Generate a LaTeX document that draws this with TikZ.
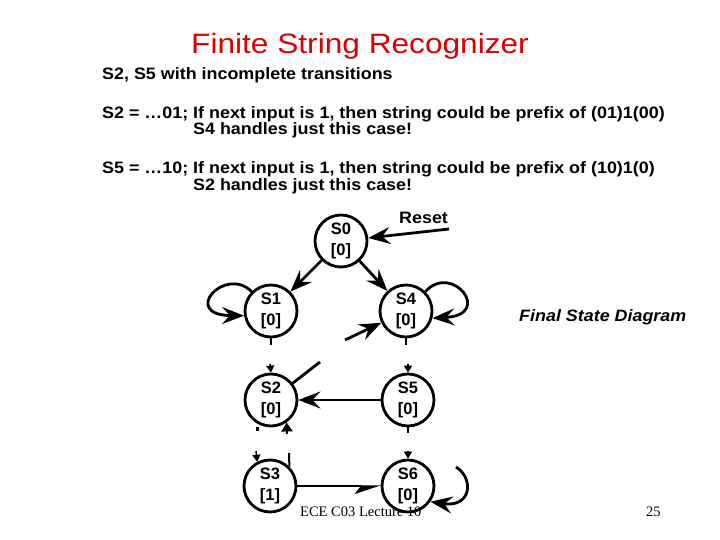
\documentclass[tikz,border=0pt]{standalone}
\usepackage{fontspec}
\setmainfont{Liberation Sans}
\newfontfamily\widesans[FakeStretch=1.085]{Liberation Sans}
\newfontfamily\titlesans[FakeStretch=1.13]{Liberation Sans}
\newfontfamily\nodesans{Liberation Sans}
\newfontfamily\footserif{Liberation Serif}
\usetikzlibrary{arrows.meta}
\definecolor{titlered}{RGB}{218,0,0}
\begin{document}
\begin{tikzpicture}[x=1pt,y=-1pt,
  state/.style={circle, draw, line width=2.8pt, minimum size=52pt, inner sep=0pt, align=center,
    font=\nodesans\bfseries\fontsize{16.5}{21}\selectfont},
  conn/.style={line width=2.8pt},
  arr/.style={conn, -{Stealth[length=22pt,width=17pt,inset=8pt]}},
  smallarr/.style={line width=1.5pt, -{Triangle[length=7pt,width=8pt]}},
  thinarr/.style={line width=1.2pt, -{Stealth[length=24pt,width=16pt,inset=6pt,harpoon,swap]}},
  bodytext/.style={anchor=base west, inner sep=0pt, font=\widesans\bfseries\fontsize{16.5}{18}\selectfont},
  foot/.style={anchor=base west, inner sep=0pt, font=\footserif\fontsize{14.5}{16}\selectfont}
]
\useasboundingbox (0,0) rectangle (720,540);

% texts
\node[anchor=base west, inner sep=0pt, text=titlered, font=\titlesans\fontsize{28}{30}\selectfont] (title) at (191,54) {Finite String Recognizer};
\node[bodytext] (l1) at (102,80) {S2, S5 with incomplete transitions};
\node[bodytext] (l2) at (102,119) {S2 = \dots01; If next input is 1, then string could be prefix of (01)1(00)};
\node[bodytext] (l3) at (193,135) {S4 handles just this case!};
\node[bodytext] (l4) at (102,174) {S5 = \dots10; If next input is 1, then string could be prefix of (10)1(0)};
\node[bodytext] (l5) at (193,191) {S2 handles just this case!};
\node[bodytext] (fsd) at (519,321) {\itshape Final State Diagram};
\node[bodytext] (reset) at (399,223) {Reset};
\node[foot] (lect) at (300,516) {ECE C03 Lecture 10};
\node[foot] (pg) at (646,516) {25};

% states
\node[state] (S0) at (341,241) {S0\\{[0]}};
\node[state] (S1) at (271,311) {S1\\{[0]}};
\node[state] (S4) at (406,311) {S4\\{[0]}};
\node[state] (S2) at (271,400) {S2\\{[0]}};
\node[state] (S5) at (408,400) {S5\\{[0]}};
\node[state] (S3) at (270,486) {S3\\{[1]}};
\node[state] (S6) at (408,486) {S6\\{[0]}};

% free ends
\coordinate (rst) at (449,229);
\coordinate (in4) at (345,340);
\coordinate (out2) at (320,362);
\coordinate (st1) at (271,345);
\coordinate (st4) at (406,345);
\coordinate (st5) at (408,433);
\coordinate (a2) at (270,364);
\coordinate (a5) at (408,364);
\coordinate (a6) at (408,451);
\coordinate (a3) at (256,451);
\coordinate (b2) at (287,434);
\coordinate (d1) at (257,427);
\coordinate (d2) at (257,431);
\coordinate (t3) at (289,453);
\coordinate (l6) at (456,467);

% connectors
\draw[arr] (rst) -- (S0);
\draw[arr] (S0) -- (S1);
\draw[arr] (S0) -- (S4);
\draw[arr] (S1.135) .. controls (225,265) and (180,315) .. (S1.190);
\draw[arr] (S4.45) .. controls (452,262) and (494,315) .. (S4.-15);
\draw[arr] (in4) -- (S4);
\draw[conn] (S1) -- (st1);
\draw[conn] (S4) -- (st4);
\draw[smallarr] (a2) -- (S2.north);
\draw[smallarr] (a5) -- (S5.north);
\draw[conn] (S2) -- (out2);
\draw[arr] (S5) -- (S2);
\draw[line width=2pt, -{Triangle[length=9pt,width=11pt]}] (b2) -- (S2.-55);
\draw[line width=3pt] (d1) -- (d2);
\draw[smallarr] (a3) -- (S3.118);
\draw[line width=2pt] (S3.45) -- (t3);
\draw[conn] (S5) -- (st5);
\draw[smallarr] (a6) -- (S6.north);
\draw[thinarr] (S3) -- (S6);
\draw[arr] (l6) .. controls (474,478) and (472,508) .. (S6.-35);
\end{tikzpicture}
\end{document}
